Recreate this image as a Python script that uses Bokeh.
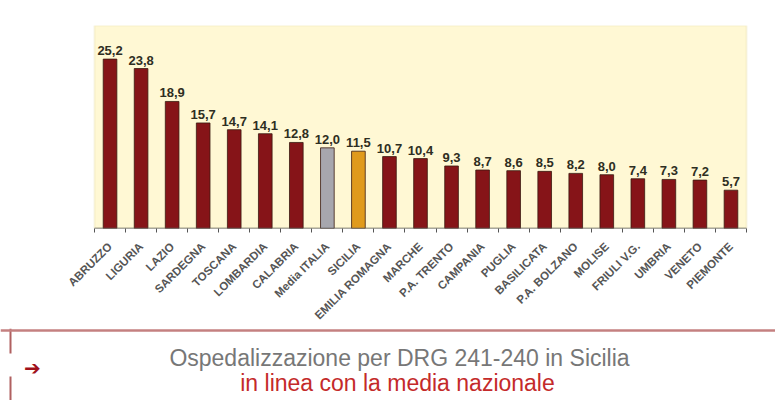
from bokeh.plotting import figure
from bokeh.models import Range1d, FixedTicker, ColumnDataSource, Span, BoxAnnotation
from bokeh.layouts import column
from bokeh.embed import file_html
from bokeh.resources import INLINE
from bokeh.core.properties import value
import math

categories = ["ABRUZZO", "LIGURIA", "LAZIO", "SARDEGNA", "TOSCANA", "LOMBARDIA",
              "CALABRIA", "Media ITALIA", "SICILIA", "EMILIA ROMAGNA", "MARCHE",
              "P.A. TRENTO", "CAMPANIA", "PUGLIA", "BASILICATA", "P.A. BOLZANO",
              "MOLISE", "FRIULI V.G.", "UMBRIA", "VENETO", "PIEMONTE"]
values = [25.2, 23.8, 18.9, 15.7, 14.7, 14.1, 12.8, 12.0, 11.5, 10.7, 10.4,
          9.3, 8.7, 8.6, 8.5, 8.2, 8.0, 7.4, 7.3, 7.2, 5.7]
highlight = {"Media ITALIA": "#A7A7AE", "SICILIA": "#E09A1C"}
base_color = "#861418"

box_line1 = "Ospedalizzazione per DRG 241-240 in Sicilia"
box_line2 = "in linea con la media nazionale"

n = len(categories)
y_max = 30.2
xs = [i + 0.5 for i in range(n)]
colors = [highlight.get(c, base_color) for c in categories]
labels = [f"{v:.1f}".replace(".", ",") for v in values]

src = ColumnDataSource(dict(x=xs, top=values, color=colors, label=labels))

W = 775
p = figure(width=W, height=328, output_backend="svg", toolbar_location=None,
           x_range=Range1d(-3.028, 21.934), y_range=Range1d(0, y_max),
           min_border_left=0, min_border_right=0, min_border_top=25,
           min_border_bottom=100)
p.background_fill_color = "white"
p.border_fill_color = "white"
p.outline_line_color = None
p.xgrid.visible = False
p.ygrid.visible = False
p.yaxis.visible = False

p.add_layout(BoxAnnotation(left=0, right=n, bottom=0, top=y_max,
                           fill_color="#FFF8D4", fill_alpha=1.0,
                           line_color="#E4D9A8", line_width=2, level="underlay"))

p.vbar(x="x", top="top", width=0.44, bottom=0, fill_color="color",
       line_color="#3A1A10", line_width=0.8, source=src)
p.segment(x0=[0], y0=[0], x1=[n], y1=[0], line_color="#555555", line_width=1.5)
p.text(x="x", y="top", text="label", source=src, y_offset=-4,
       text_align="center", text_baseline="bottom",
       text_font=value("Liberation Sans"), text_font_style="bold",
       text_font_size="13px", text_color="#2E2E22")

ax = p.xaxis[0]
ax.ticker = FixedTicker(ticks=xs, minor_ticks=list(range(n + 1)))
ax.major_label_overrides = {x: c for x, c in zip(xs, categories)}
ax.major_label_orientation = math.pi / 4
ax.major_label_text_font = "Liberation Sans"
ax.major_label_text_font_style = "bold"
ax.major_label_text_font_size = "11.5px"
ax.major_label_text_color = "#555555"
ax.major_tick_out = 0
ax.major_tick_in = 0
ax.minor_tick_out = 4
ax.minor_tick_in = 0
ax.minor_tick_line_color = "#555555"
ax.axis_line_color = None
ax.major_label_standoff = 12

b = figure(width=W, height=72, output_backend="svg", toolbar_location=None,
           x_range=Range1d(0, W), y_range=Range1d(72, 0),
           min_border=0)
b.outline_line_color = None
b.xaxis.visible = False
b.yaxis.visible = False
b.xgrid.visible = False
b.ygrid.visible = False
b.add_layout(Span(location=2, dimension="width", line_color="#C48080", line_width=2.5))
b.segment(x0=[10, 10], y0=[0, 48], x1=[10, 10], y1=[25, 72],
          line_color="#B06060", line_width=2)
b.text(x=[399], y=[29], text=[box_line1], text_align="center", text_baseline="middle",
       text_font=value("Liberation Sans"), text_font_size="23px", text_color="#777777")
b.text(x=[397], y=[54], text=[box_line2], text_align="center", text_baseline="middle",
       text_font=value("Liberation Sans"), text_font_size="23px", text_color="#C42A2A")
b.text(x=[32], y=[39], text=["\u2794"], text_align="center", text_baseline="middle",
       text_font=value("DejaVu Sans"), text_font_size="20px",
       text_color="#A0101A")

layout = column(p, b, spacing=0)
open("out.html", "w").write(file_html(layout, INLINE))
